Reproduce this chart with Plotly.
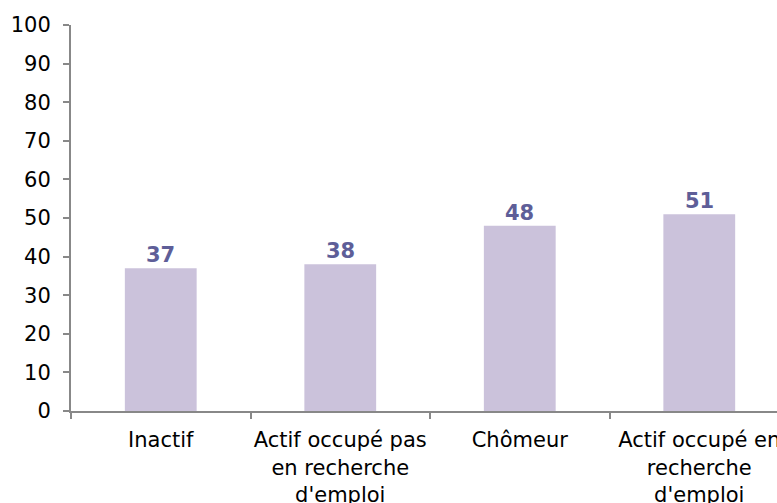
import plotly.graph_objects as go

categories = ["Inactif", "Actif occupé pas<br>en recherche<br>d'emploi", "Chômeur", "Actif occupé en<br>recherche<br>d'emploi"]
values = [37, 38, 48, 51]
y_ticks = [0, 10, 20, 30, 40, 50, 60, 70, 80, 90, 100]

fig = go.Figure()
fig.add_trace(go.Bar(
    x=categories, y=values,
    marker=dict(color="#CBC2DB", line=dict(width=0)),
    width=0.4,
    hoverinfo="skip",
))

for c, v in zip(categories, values):
    fig.add_annotation(
        x=c, y=v, text=f"<b>{v}</b>", showarrow=False,
        xanchor="center", yanchor="bottom", yshift=-1,
        font=dict(family="DejaVu Sans", size=21, color="#5E5E98"),
    )

fig.update_layout(
    width=777, height=503,
    margin=dict(l=71, r=0, t=25, b=92, autoexpand=False),
    paper_bgcolor="white", plot_bgcolor="white",
    showlegend=False,
    font=dict(family="DejaVu Sans", size=21, color="#000000"),
)
fig.update_xaxes(
    type="category",
    range=[-0.5, 3.433],
    automargin=False,
    tickangle=0,
    ticklabelstandoff=9,
    showline=True, linecolor="#888888", linewidth=2,
    ticks="outside", tickson="boundaries", ticklen=6, tickcolor="#888888", tickwidth=2,
    showgrid=False, zeroline=False,
    tickfont=dict(family="DejaVu Sans", size=21, color="#000000"),
)
fig.update_yaxes(
    range=[0, 100],
    tickvals=y_ticks,
    automargin=False,
    ticklabelstandoff=8,
    showline=True, linecolor="#888888", linewidth=2,
    ticks="outside", ticklen=6, tickcolor="#888888", tickwidth=2,
    showgrid=False, zeroline=False,
    tickfont=dict(family="DejaVu Sans", size=21, color="#000000"),
)

fig.write_html("out.html", config={"displayModeBar": False},
               post_script="document.body.style.margin='0px';")
